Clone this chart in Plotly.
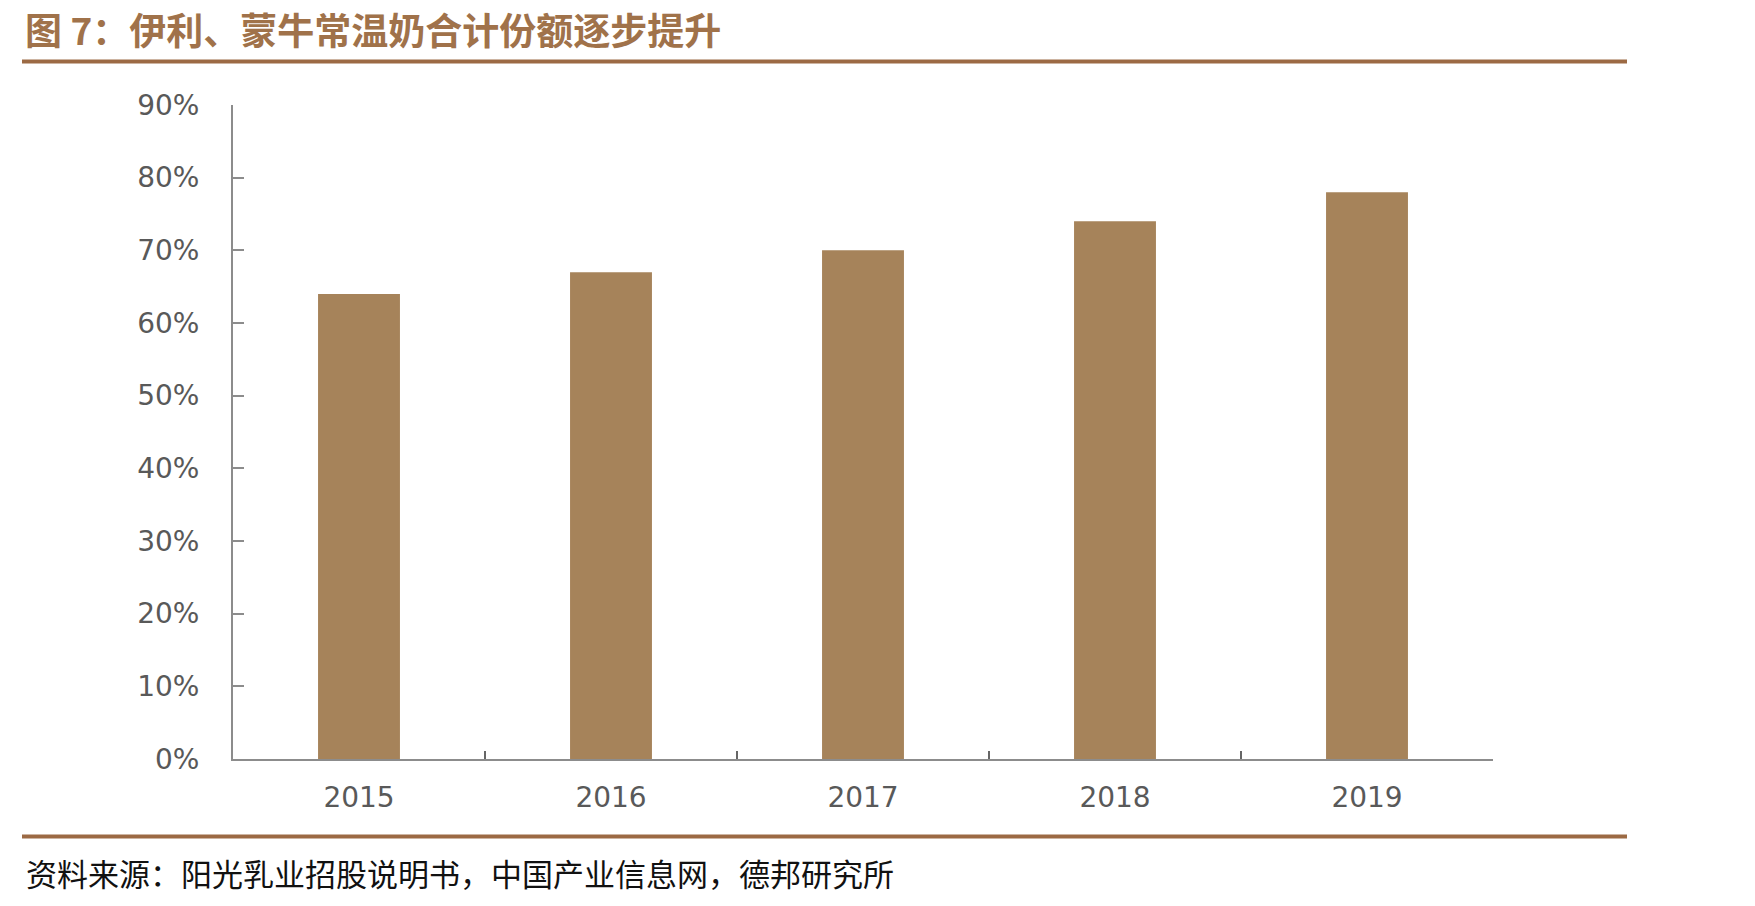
import plotly.graph_objects as go

categories = ["2015", "2016", "2017", "2018", "2019"]
share = [0.64, 0.67, 0.70, 0.74, 0.78]
ytick_vals = [0, 0.1, 0.2, 0.3, 0.4, 0.5, 0.6, 0.7, 0.8, 0.9]
ytick_text = ["0%", "10%", "20%", "30%", "40%", "50%", "60%", "70%", "80%", "90%"]

title_text = "图 7：伊利、蒙牛常温奶合计份额逐步提升"
source_text = "资料来源：阳光乳业招股说明书，中国产业信息网，德邦研究所"

W, H = 1755, 906
L, R, T, B = 233, 262, 105, 147
pw, ph = W - L - R, H - T - B

def px_x(x):
    return (x - L) / pw

def px_y(y):
    return (H - B - y) / ph

fig = go.Figure()
fig.add_trace(go.Bar(
    x=categories, y=share,
    marker=dict(color="#A6835A", line=dict(width=0)),
    width=0.325,
    hoverinfo="skip",
))

axis_color = "#8C8C8C"
fig.update_layout(
    width=W, height=H,
    margin=dict(l=L, r=R, t=T, b=B, pad=0),
    paper_bgcolor="white", plot_bgcolor="white",
    showlegend=False,
    font=dict(family="DejaVu Sans", color="#595959"),
    xaxis=dict(
        showline=True, linecolor=axis_color, linewidth=2,
        ticks="inside", ticklen=8, tickwidth=1.5, tickcolor="#666666",
        tickson="boundaries",
        showgrid=False, zeroline=False,
        tickfont=dict(size=28, color="#595959", family="DejaVu Sans"),
        ticklabelstandoff=12,
    ),
    yaxis=dict(
        range=[0, 0.9],
        tickvals=ytick_vals, ticktext=ytick_text,
        showline=True, linecolor=axis_color, linewidth=2,
        ticks="inside", ticklen=11, tickwidth=1.5, tickcolor=axis_color,
        showgrid=False, zeroline=False,
        tickfont=dict(size=28, color="#595959", family="DejaVu Sans"),
        ticklabelstandoff=26,
    ),
    shapes=[
        dict(type="line", xref="paper", yref="paper",
             x0=px_x(22), x1=px_x(1627), y0=px_y(61.5), y1=px_y(61.5),
             line=dict(color="#9C6A44", width=4)),
        dict(type="line", xref="paper", yref="paper",
             x0=px_x(22), x1=px_x(1627), y0=px_y(836.5), y1=px_y(836.5),
             line=dict(color="#9C6A44", width=4)),
    ],
    annotations=[
        dict(text="<b>" + title_text + "</b>", xref="paper", yref="paper",
             x=px_x(24), y=px_y(1), xanchor="left", yanchor="top",
             showarrow=False, borderpad=0,
             font=dict(family="Noto Sans CJK SC", size=37, color="#A0724A")),
        dict(text=source_text, xref="paper", yref="paper",
             x=px_x(24), y=px_y(872), xanchor="left", yanchor="middle",
             showarrow=False,
             font=dict(family="Noto Sans CJK SC", size=31, color="#111111")),
    ],
)

fig.write_html("out.html")
